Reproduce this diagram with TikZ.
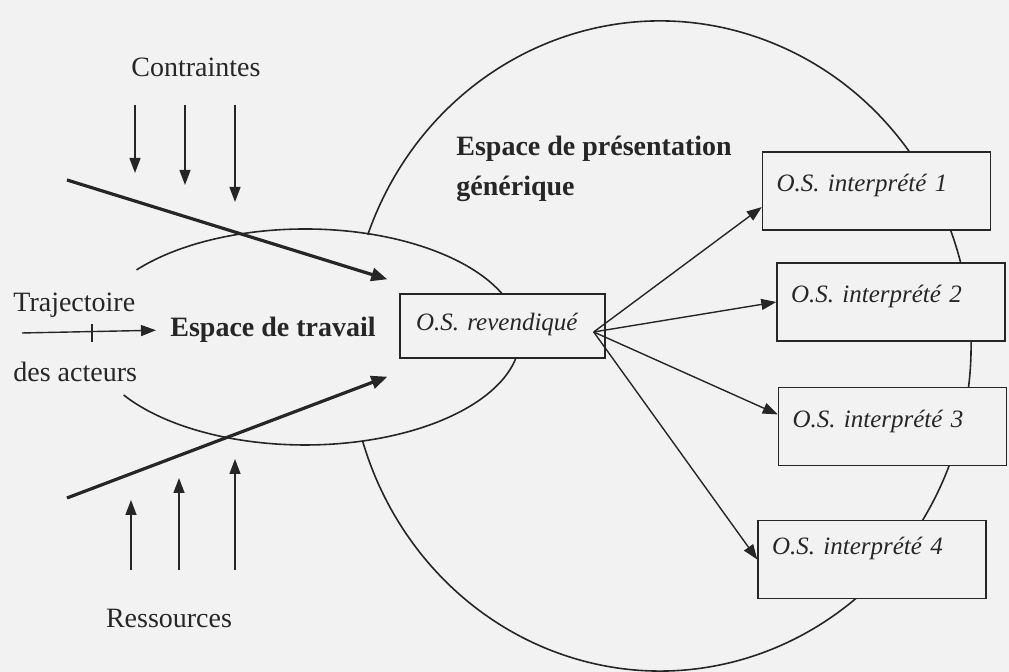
\documentclass[tikz,border=0pt]{standalone}
\usepackage{fontspec}
\setmainfont{Liberation Serif}
\usepackage{tikz}
\usetikzlibrary{arrows.meta}

\definecolor{paper}{gray}{0.95}
\definecolor{ink}{gray}{0.15}

\tikzset{
	ring/.style={draw=ink, line width=0.8pt},
	flow/.style={draw=ink, line width=0.7pt, -{Triangle[length=7.5pt,width=5.5pt]}},
	push/.style={draw=ink, line width=1.6pt, -{Triangle[length=8pt,width=6.5pt]}},
	txt/.style={text=ink, inner sep=0pt, font=\fontsize{14}{20}\selectfont},
	bigtxt/.style={text=ink, inner sep=0pt, font=\fontsize{14}{20}\selectfont\bfseries},
	osbox/.style={draw=ink, fill=paper, rectangle, line width=0.7pt, text=ink,
		font=\fontsize{12.5}{15}\selectfont\itshape, minimum height=39pt,
		text width=100pt, inner xsep=7pt, text height=9pt, text depth=8pt},
	revbox/.style={osbox, minimum height=32pt, text width=86.5pt, inner xsep=8pt,
		text height=9pt, text depth=4pt}
}

\begin{document}
\begin{tikzpicture}[x=0.5pt,y=0.5pt]
			\fill[paper] (0,0) rectangle (1009,672);
			\useasboundingbox (0,0) rectangle (1009,672);
			
			% the two spaces
			\coordinate (pc) at (660,326);
			\coordinate (tc) at (305,335);
			\draw[ring] (pc) ++(160:155.5pt and 162.5pt) arc[start angle=160, end angle=-163, x radius=155.5pt, y radius=162.5pt];
			\draw[ring] (tc) ++(141.6:107.5pt and 54pt) arc[start angle=141.6, end angle=-147.5, x radius=107.5pt, y radius=54pt];
			
			\node (rev) [revbox] at (502.5,346) {O.S. revendiqué};
			\node (i1) [osbox] at (876.5,481) {O.S. interprété 1};
			\node (i2) [osbox] at (891,370) {O.S. interprété 2};
			\node (i3) [osbox] at (892.5,245.5) {O.S. interprété 3};
			\node (i4) [osbox, text depth=14pt] at (872,112.5) {O.S. interprété 4};
			
			\node (con) [txt, anchor=base] at (196,595) {Contraintes};
			\node (res) [txt, anchor=base] at (169,44) {Ressources};
			\node (traj) [txt, anchor=base west] at (13,360) {Trajectoire};
			\node (act) [txt, anchor=base west] at (13,290) {des acteurs};
			\node (trav) [bigtxt, anchor=base west] at (170,335) {Espace de travail};
			\node (pres) [bigtxt, anchor=north west, align=left] at (456,536) {Espace de présentation\\générique};
			
			% contraintes / ressources
			\draw[flow] (135,567) -- (135,499);
			\draw[flow] (185,567) -- (185,487);
			\draw[flow] (235,567) -- (235,470);
			\draw[flow] (131,102) -- (131,172);
			\draw[flow] (179,102) -- (179,194);
			\draw[flow] (235,102) -- (235,213);
			
			% trajectoire
			\draw[flow] (22,339) -- ([xshift=-7pt]trav.west);
			\draw[draw=ink, line width=0.7pt] (92,348) -- (92,330);
			
			\coordinate (in1) at (67,492);
			\coordinate (in2) at (67,174);
			\draw[push] (in1) -- ([shift={(-6pt,7pt)}]rev.north west);
			\draw[push] (in2) -- ([shift={(-6pt,-9pt)}]rev.south west);
			
			\coordinate (src) at ([shift={(-6pt,-3pt)}]rev.east);
			\draw[flow] (src) -- (i1.188);
			\draw[flow] (src) -- (i2.west);
			\draw[flow] (src) -- (i3.174);
			\draw[flow] (src) -- (i4.west);
		\end{tikzpicture}
\end{document}
